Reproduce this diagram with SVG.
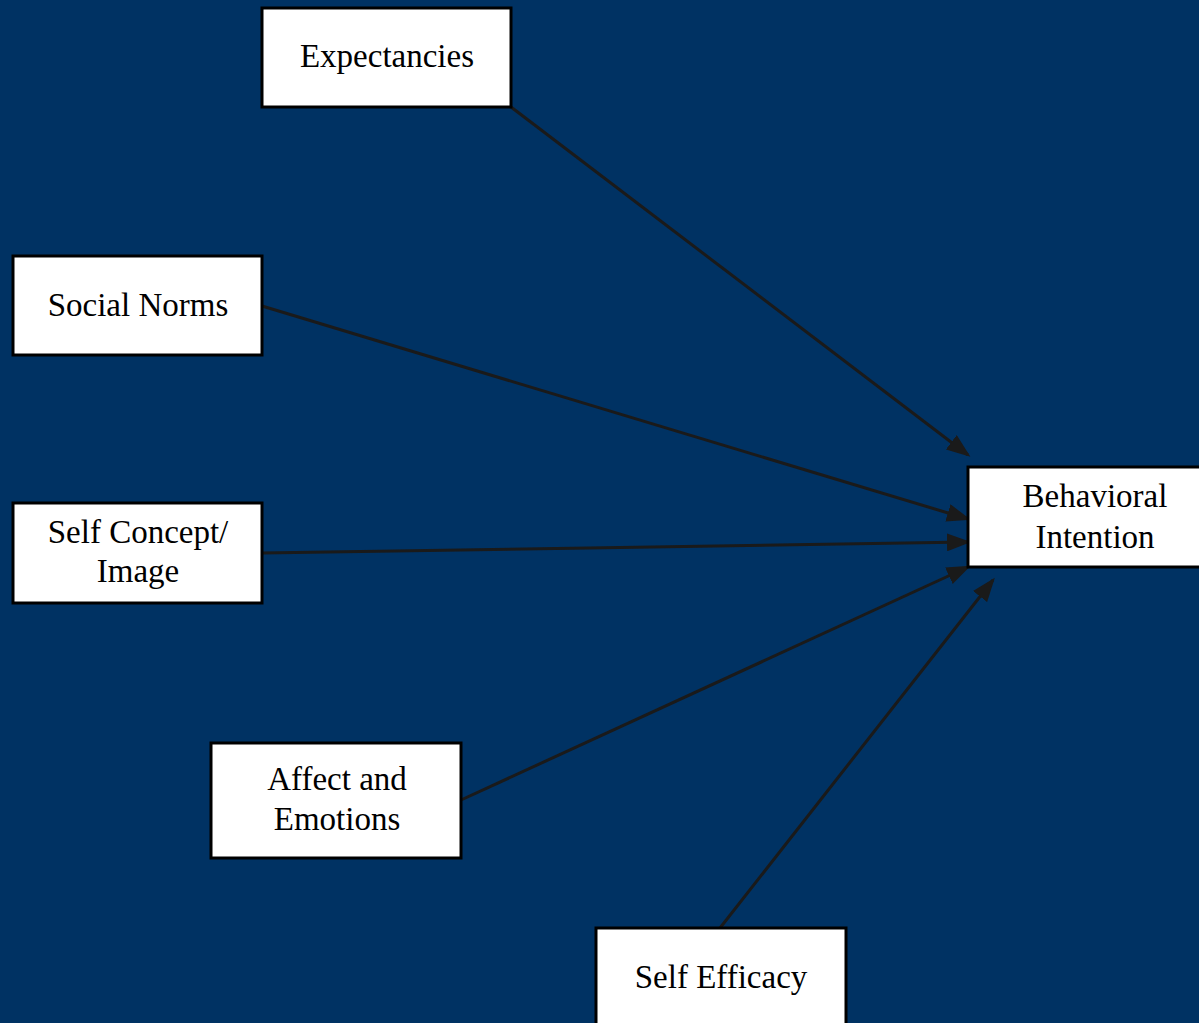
<svg xmlns="http://www.w3.org/2000/svg" width="1199" height="1023" viewBox="0 0 1199 1023">
<style>
.box{fill:#fff;stroke:#000;stroke-width:3}
.t{font-family:"Liberation Serif",serif;font-size:33px;fill:#000;text-anchor:middle}
.c{stroke:#1a1a1a;stroke-width:3;fill:none;marker-end:url(#ah)}
</style>
<defs>
<marker id="ah" markerWidth="8" markerHeight="6" refX="7" refY="3" orient="auto" markerUnits="strokeWidth">
<path d="M0,0 L8,3 L0,6 z" fill="#1a1a1a"/>
</marker>
</defs>
<rect width="1199" height="1023" fill="#003263"/>
<g id="connectors">
<line class="c" x1="511" y1="107" x2="968" y2="455"/>
<line class="c" x1="262" y1="306" x2="968" y2="519"/>
<line class="c" x1="262" y1="553" x2="968" y2="542"/>
<line class="c" x1="461" y1="800" x2="968" y2="567"/>
<line class="c" x1="720" y1="928" x2="993" y2="580"/>
</g>
<g id="expectancies"><rect class="box" x="262" y="8" width="249" height="99"/><text class="t" x="387" y="67">Expectancies</text></g>
<g id="social-norms"><rect class="box" x="13" y="256" width="249" height="99"/><text class="t" x="138" y="316">Social Norms</text></g>
<g id="self-concept"><rect class="box" x="13" y="503" width="249" height="100"/><text class="t" x="138" y="543">Self Concept/</text><text class="t" x="138" y="582">Image</text></g>
<g id="affect"><rect class="box" x="211" y="743" width="250" height="115"/><text class="t" x="337" y="790">Affect and</text><text class="t" x="337" y="830">Emotions</text></g>
<g id="self-efficacy"><rect class="box" x="596" y="928" width="250" height="110"/><text class="t" x="721" y="988">Self Efficacy</text></g>
<g id="behavioral-intention"><rect class="box" x="968" y="467" width="240" height="100"/><text class="t" x="1095" y="507">Behavioral</text><text class="t" x="1095" y="548">Intention</text></g>
</svg>
